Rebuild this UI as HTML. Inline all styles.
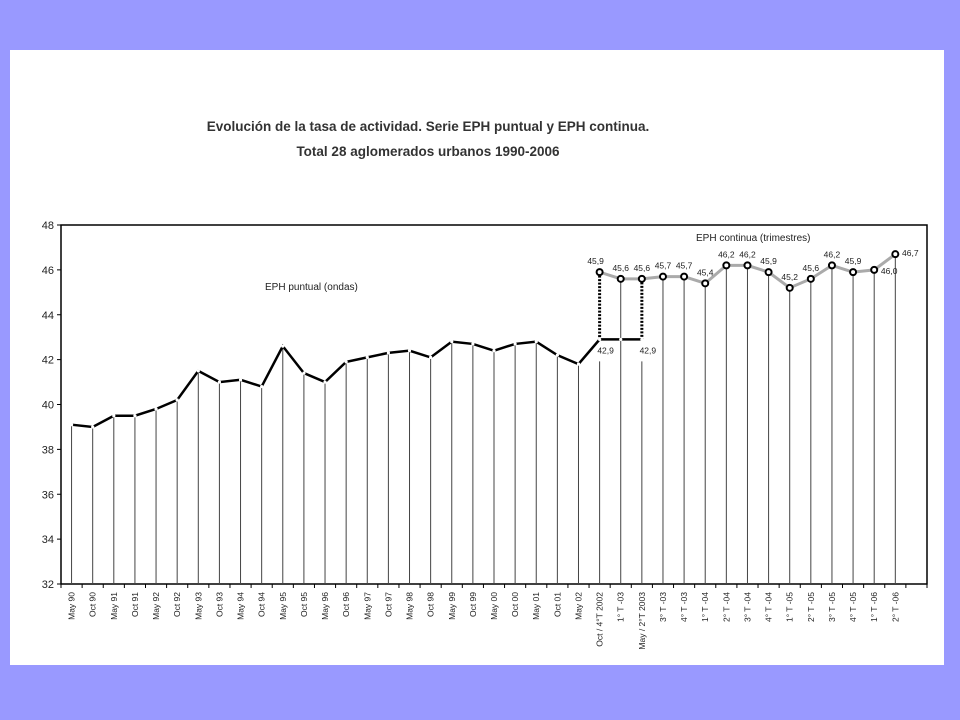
<!DOCTYPE html>
<html><head><meta charset="utf-8">
<style>
body{margin:0;width:960px;height:720px;background:#9999ff;font-family:"Liberation Sans",sans-serif;overflow:hidden}
#panel{position:absolute;left:10px;top:50px;width:934px;height:615px;background:#fff}
svg{position:absolute;left:0;top:0}
</style></head><body>
<div id="panel"></div>
<svg id="chart" width="960" height="720"></svg>
<script>
const categories=["May 90","Oct 90","May 91","Oct 91","May 92","Oct 92","May 93","Oct 93","May 94","Oct 94","May 95","Oct 95","May 96","Oct 96","May 97","Oct 97","May 98","Oct 98","May 99","Oct 99","May 00","Oct 00","May 01","Oct 01","May 02","Oct / 4°T 2002","1° T -03","May / 2°T 2003","3° T -03","4° T -03","1° T -04","2° T -04","3° T -04","4° T -04","1° T -05","2° T -05","3° T -05","4° T -05","1° T -06","2° T -06"];
const puntual=[39.1,39.0,39.5,39.5,39.8,40.2,41.5,41.0,41.1,40.8,42.6,41.4,41.0,41.9,42.1,42.3,42.4,42.1,42.8,42.7,42.4,42.7,42.8,42.2,41.8,42.9,42.9,42.9];
const continuaStart=25;
const continua=[45.9,45.6,45.6,45.7,45.7,45.4,46.2,46.2,45.9,45.2,45.6,46.2,45.9,46.0,46.7];
const yTicks=[32,34,36,38,40,42,44,46,48];

const NS="http://www.w3.org/2000/svg";
const svg=document.getElementById('chart');
const L=61,R=927,T=225,B=584,slots=41,bw=(R-L)/slots;
const x=i=>L+bw*(i+0.5);
const y=v=>B-(v-32)/16*(B-T);
function mk(tag,attrs,parent){const e=document.createElementNS(NS,tag);for(const k in attrs)e.setAttribute(k,attrs[k]);(parent||svg).appendChild(e);return e;}
function fmt(v){return v.toFixed(1).replace('.',',');}

let t=mk('text',{x:428,y:131,'text-anchor':'middle','font-size':13.5,'font-weight':'bold',fill:'#333'});
t.textContent='Evolución de la tasa de actividad. Serie EPH puntual y EPH continua.';


t=mk('text',{x:428,y:156,'text-anchor':'middle','font-size':13.5,'font-weight':'bold',fill:'#333'});
t.textContent='Total 28 aglomerados urbanos 1990-2006';



let fr=mk('rect',{x:L,y:T,width:R-L,height:B-T,fill:'none',stroke:'#000','stroke-width':1.5});



yTicks.forEach(v=>{
  mk('line',{x1:L-4,x2:L,y1:y(v),y2:y(v),stroke:'#000'});
  const tx=mk('text',{x:L-7,y:y(v)+4,'text-anchor':'end','font-size':11,fill:'#222'});
  tx.textContent=v;
  
  
});
for(let i=0;i<=slots;i++){mk('line',{x1:L+bw*i,x2:L+bw*i,y1:B,y2:B+4,stroke:'#000'});}
categories.forEach((c,i)=>{
  const tx=mk('text',{'text-anchor':'end','font-size':8.5,fill:'#222',transform:`translate(${x(i)+3},${B+8}) rotate(-90)`});
  tx.textContent=c;
  
  
});

categories.forEach((c,i)=>{
  let top;
  if(i>=continuaStart&&continua[i-continuaStart]!=null){
    top=y(continua[i-continuaStart]);
    if(i===continuaStart||i===continuaStart+2){
      mk('line',{x1:x(i),x2:x(i),y1:y(puntual[i])+22,y2:B,stroke:'#444','stroke-width':1});
      return;
    }
  } else top=y(puntual[i]);
  const ln=mk('line',{x1:x(i),x2:x(i),y1:top,y2:B,stroke:'#444','stroke-width':1});
  
  
});

[continuaStart,continuaStart+2].forEach(i=>{
  const d=mk('line',{x1:x(i),x2:x(i),y1:y(continua[i-continuaStart]),y2:y(puntual[i]),stroke:'#000','stroke-width':3,'stroke-dasharray':'2,1.5'});
  
  
});

let pl=mk('polyline',{points:puntual.map((v,i)=>x(i)+','+y(v)).join(' '),fill:'none',stroke:'#000','stroke-width':2.5});


puntual.forEach((v,i)=>{
  const c=mk('circle',{cx:x(i),cy:y(v),r:1.6,fill:'#fff'});
  
  
});
[continuaStart,continuaStart+2].forEach(i=>{
  const tx=mk('text',{x:x(i)+6,y:y(puntual[i])+14,'text-anchor':'middle','font-size':8.5,fill:'#222'});
  tx.textContent=fmt(puntual[i]);
  
  
});

let cl=mk('polyline',{points:continua.map((v,k)=>x(k+continuaStart)+','+y(v)).join(' '),fill:'none',stroke:'#aaa','stroke-width':3});


continua.forEach((v,k)=>{
  const i=k+continuaStart;
  const c=mk('circle',{cx:x(i),cy:y(v),r:3,fill:'#fff',stroke:'#000','stroke-width':2});
  
  
  const last=k===continua.length-1, pen=k===continua.length-2;
  const lx=last?x(i)+15:pen?x(i)+15:x(i)-(k===0?4:0);
  const ly=last?y(v)+2:pen?y(v)+4:y(v)-8;
  const tx=mk('text',{x:lx,y:ly,'text-anchor':'middle','font-size':8.5,fill:'#222'});
  tx.textContent=fmt(v);
  
  
});

t=mk('text',{x:265,y:290,'font-size':10,fill:'#222'});
t.textContent='EPH puntual (ondas)';


t=mk('text',{x:696,y:241,'font-size':10,fill:'#222'});
t.textContent='EPH continua (trimestres)';


</script>
</body></html>
